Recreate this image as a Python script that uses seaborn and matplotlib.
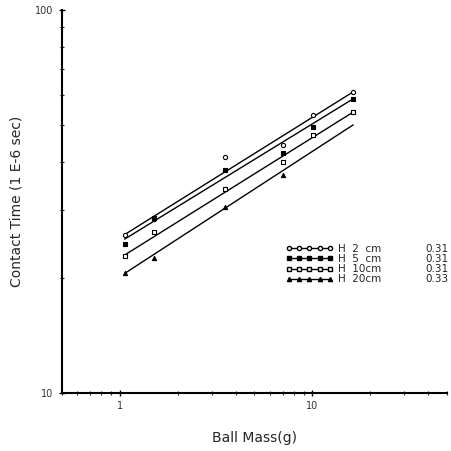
import numpy as np
import pandas as pd
import seaborn as sns
import matplotlib
matplotlib.use("Agg")
import matplotlib.pyplot as plt
from matplotlib.lines import Line2D

# ball masses (g) and contact times (1E-6 sec)
mass = [1.06, 1.5, 3.5, 7.0, 10.1, 16.3]
t_h2 = [25.9, 28.4, 41.3, 44.4, 53.2, 61.1]
t_h5 = [24.5, 28.6, 38.2, 42.4, 49.5, 58.6]
t_h10 = [22.7, 26.3, 34.1, 40.1, 47.2, 54.1]
t_h20 = [20.6, 22.5, 30.6, 37.1]

# fitted lines, value at first and last mass
fit_x = [1.06, 16.3]
fit_h2 = [25.9, 61.1]
fit_h5 = [25.2, 58.6]
fit_h10 = [22.9, 54.1]
fit_h20 = [20.5, 50.1]

labels = ["H  2  cm", "H  5  cm", "H  10cm", "H  20cm"]
slopes = ["0.31", "0.31", "0.31", "0.33"]
markers = ["o", "s", "s", "^"]
faces = ["white", "black", "white", "black"]

rows = []
for lab, ys in zip(labels, [t_h2, t_h5, t_h10, t_h20]):
    for m, t in zip(mass, ys):
        rows.append({"mass": m, "time": t, "height": lab})
df = pd.DataFrame(rows)

sns.set_style("ticks")
plt.rcParams['font.family'] = ['DejaVu Sans']

fig = plt.figure(figsize=(4.51, 4.51), dpi=100)
ax = fig.add_axes([0.137, 0.129, 0.854, 0.849])

for lab, fy in zip(labels, [fit_h2, fit_h5, fit_h10, fit_h20]):
    sns.lineplot(x=fit_x, y=fy, ax=ax, color="black", lw=1.0)

for lab, mk, fc in zip(labels, markers, faces):
    sub = df[df["height"] == lab]
    ax.scatter(sub["mass"], sub["time"], marker=mk, s=9, facecolor=fc,
               edgecolor="black", linewidth=0.8, zorder=3)

ax.set_xscale("log")
ax.set_yscale("log")
ax.set_xlim(0.5, 50)
ax.set_ylim(10, 100)
ax.set_xticks([1, 10])
ax.set_xticklabels(["1", "10"])
ax.set_yticks([10, 100])
ax.set_yticklabels(["10", "100"])
ax.tick_params(axis="both", which="major", direction="inout", length=5,
               width=1, labelsize=7, colors="black", labelcolor="#333333")
ax.tick_params(axis="both", which="minor", direction="inout", length=3, width=0.8)
ax.yaxis.set_minor_formatter(matplotlib.ticker.NullFormatter())
ax.xaxis.set_minor_formatter(matplotlib.ticker.NullFormatter())

sns.despine(ax=ax)
for s in ["left", "bottom"]:
    ax.spines[s].set_linewidth(1.5)
    ax.spines[s].set_color("black")

ax.set_xlabel("Ball Mass(g)", fontsize=10, labelpad=14)
ax.set_ylabel("Contact Time (1 E-6 sec)", fontsize=10, labelpad=8)

handles = [Line2D([0], [0], color="black", lw=1, marker=mk, markersize=3,
                  markerfacecolor=fc, markeredgecolor="black")
           for mk, fc in zip(markers, faces)]
leg = ax.legend(handles, labels, loc="upper left", bbox_to_anchor=(0.57, 0.40),
                frameon=False, fontsize=7.5, numpoints=5, handlelength=4.6,
                handletextpad=0.4, labelspacing=0.02, borderaxespad=0)

# slope column, aligned with legend rows
fig.canvas.draw()
inv = ax.transAxes.inverted()
for txt, s in zip(leg.get_texts(), slopes):
    bb = txt.get_window_extent()
    _, yc = inv.transform((0, (bb.y0 + bb.y1) / 2))
    ax.text(1.005, yc, s, transform=ax.transAxes, ha="right", va="center",
            fontsize=7.5, clip_on=False)

fig.savefig("out.png", dpi=100)
